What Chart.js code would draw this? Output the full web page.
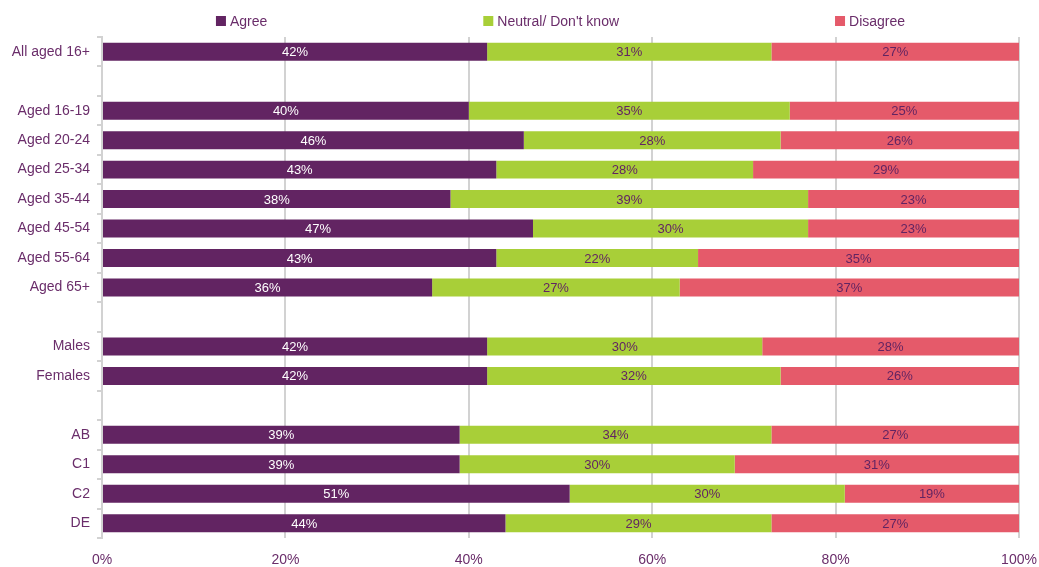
<!DOCTYPE html>
<html>
<head>
<meta charset="utf-8">
<script src="https://cdn.jsdelivr.net/npm/chart.js@4/dist/chart.umd.min.js"></script>
<style>
  html, body { margin: 0; padding: 0; background: #fff; }
  #wrap { width: 1039px; height: 567px; position: relative; }
</style>
</head>
<body>
<div id="wrap"><canvas id="c"></canvas></div>
<script>
// Row labels; empty strings are spacer rows between groups
const categories = [
  'All aged 16+', '',
  'Aged 16-19', 'Aged 20-24', 'Aged 25-34', 'Aged 35-44', 'Aged 45-54', 'Aged 55-64', 'Aged 65+', '',
  'Males', 'Females', '',
  'AB', 'C1', 'C2', 'DE'
];
const agree    = [42, null, 40, 46, 43, 38, 47, 43, 36, null, 42, 42, null, 39, 39, 51, 44];
const neutral  = [31, null, 35, 28, 28, 39, 30, 22, 27, null, 30, 32, null, 34, 30, 30, 29];
const disagree = [27, null, 25, 26, 29, 23, 23, 35, 37, null, 28, 26, null, 27, 31, 19, 27];
const seriesNames = ['Agree', 'Neutral/ Don\'t know', 'Disagree'];
const xTicks = [0, 20, 40, 60, 80, 100];

const PURPLE = '#622462';
const GREEN = '#a8cf38';
const RED = '#e55a6a';
const TEXT = '#6a2d6a';
const GRID = '#d2d2d2';
const FONT = "'Liberation Sans', Arial, sans-serif";

// Value labels centred in each segment
const segmentLabels = {
  id: 'segmentLabels',
  afterDatasetsDraw(chart) {
    const ctx = chart.ctx;
    ctx.save();
    ctx.font = '13px ' + FONT;
    ctx.textAlign = 'center';
    ctx.textBaseline = 'middle';
    chart.data.datasets.forEach((ds, i) => {
      const meta = chart.getDatasetMeta(i);
      meta.data.forEach((bar, j) => {
        const v = ds.data[j];
        if (v == null) return;
        const p = bar.getProps(['x', 'base', 'y'], true);
        ctx.fillStyle = ds.labelColor;
        ctx.fillText(v + '%', (p.x + p.base) / 2, p.y + 1);
      });
    });
    ctx.restore();
  }
};

// Widely spaced legend row above the plot
const spreadLegend = {
  id: 'spreadLegend',
  afterDraw(chart) {
    const ctx = chart.ctx;
    const area = chart.chartArea;
    ctx.save();
    ctx.font = '14px ' + FONT;
    ctx.textBaseline = 'middle';
    const box = 10, gapText = 4, gapItem = 216;
    const widths = chart.data.datasets.map(ds => box + gapText + ctx.measureText(ds.label).width);
    const total = widths.reduce((a, b) => a + b, 0) + gapItem * (widths.length - 1);
    let x = (area.left + area.right) / 2 - total / 2;
    const y = 21;
    chart.data.datasets.forEach((ds, i) => {
      ctx.fillStyle = ds.backgroundColor;
      ctx.fillRect(x, y - box / 2, box, box);
      ctx.fillStyle = TEXT;
      ctx.fillText(ds.label, x + box + gapText, y + 1);
      x += widths[i] + gapItem;
    });
    ctx.restore();
  }
};

new Chart(document.getElementById('c'), {
  type: 'bar',
  data: {
    labels: categories,
    datasets: [
      { label: seriesNames[0], data: agree, backgroundColor: PURPLE, labelColor: '#ffffff' },
      { label: seriesNames[1], data: neutral, backgroundColor: GREEN, labelColor: PURPLE },
      { label: seriesNames[2], data: disagree, backgroundColor: RED, labelColor: PURPLE }
    ]
  },
  options: {
    indexAxis: 'y',
    responsive: true,
    maintainAspectRatio: false,
    animation: false,
    datasets: { bar: { barPercentage: 0.61, categoryPercentage: 1.0 } },
    layout: { padding: { top: 37, right: 20, left: 0, bottom: 0 } },
    plugins: {
      legend: { display: false },
      tooltip: { enabled: false }
    },
    scales: {
      x: {
        stacked: true,
        min: 0,
        max: 100,
        afterBuildTicks(scale) { scale.ticks = xTicks.map(v => ({ value: v })); },
        afterFit(scale) { scale.height = 29; scale.paddingRight = 0; scale.paddingLeft = 0; },
        ticks: {
          callback: v => v + '%',
          color: TEXT,
          font: { family: FONT, size: 14 },
          padding: 14,
          maxRotation: 0
        },
        grid: { color: GRID, lineWidth: 2, drawTicks: false },
        border: { display: false }
      },
      y: {
        stacked: true,
        afterFit(scale) { scale.width = 102; },
        ticks: {
          color: TEXT,
          font: { family: FONT, size: 14 },
          padding: 7
        },
        grid: {
          offset: true,
          drawOnChartArea: false,
          color: GRID,
          lineWidth: 2,
          tickLength: 5
        },
        border: { display: true, color: GRID, width: 2 }
      }
    }
  },
  plugins: [segmentLabels, spreadLegend]
});
</script>
</body>
</html>
